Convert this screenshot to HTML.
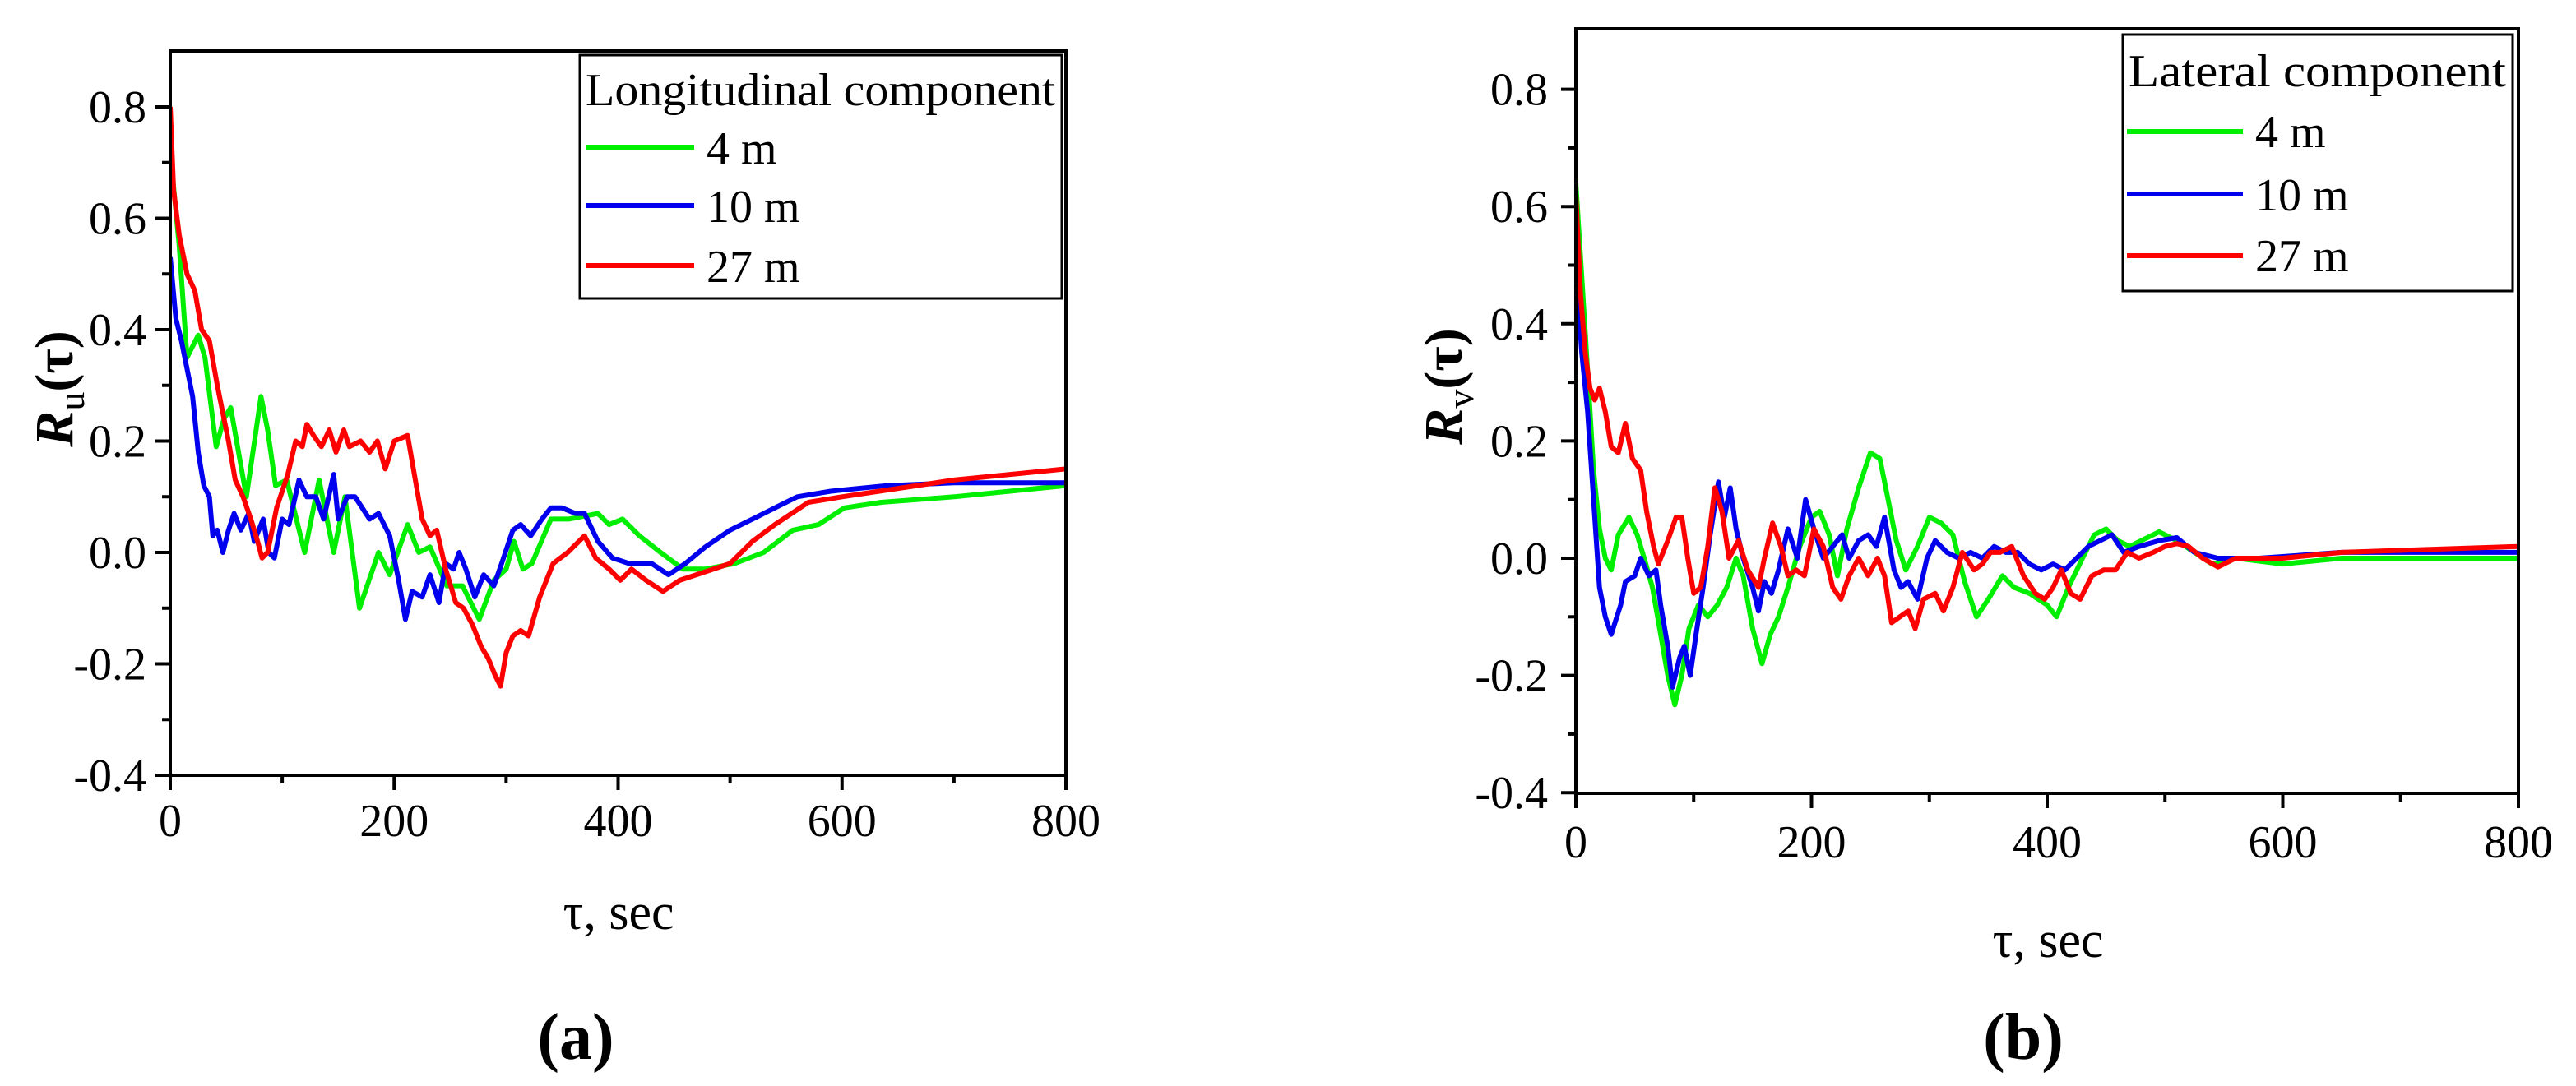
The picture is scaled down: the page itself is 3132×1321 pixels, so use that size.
<!DOCTYPE html>
<html><head><meta charset="utf-8"><style>
html,body{margin:0;padding:0;background:#fff}
svg{display:block}
text{font-family:"Liberation Serif",serif;fill:#000}
</style></head><body>
<svg id="fig" width="3132" height="1321" viewBox="0 0 3132 1321" xmlns="http://www.w3.org/2000/svg">
<defs>
<clipPath id="clipA"><rect x="207" y="62" width="1089" height="881"/></clipPath>
<clipPath id="clipB"><rect x="1916" y="35" width="1146" height="930"/></clipPath>
</defs>
<g id="panelA"></g>
<g id="panelB"></g>
</svg>
<script>
// ---- Panel (a) data: longitudinal component ----
const aGreenT=[0,8,15,25,31,41,48,54,68,81,87,94,104,120,133,146,156,169,186,196,212,222,232,247,261,276,289,300,307,315,323,340,356,382,392,404,419,438,458,478,504,530,556,579,602,635,700,800];
const aGreenV=[0.72,0.55,0.35,0.39,0.35,0.19,0.24,0.26,0.1,0.28,0.22,0.12,0.13,0.0,0.13,0.0,0.1,-0.1,0.0,-0.04,0.05,0.0,0.01,-0.06,-0.06,-0.12,-0.05,-0.03,0.02,-0.03,-0.02,0.06,0.06,0.07,0.05,0.06,0.03,0.0,-0.03,-0.03,-0.02,0.0,0.04,0.05,0.08,0.09,0.10,0.12];
const aBlueT=[0,5,10,20,25,30,35,38,42,47,52,57,63,70,75,83,88,93,100,106,115,122,130,137,146,150,158,165,178,186,196,204,210,216,225,232,240,246,253,258,264,272,280,289,296,306,313,322,332,340,350,362,370,382,395,410,430,445,460,478,500,520,540,560,590,640,700,800];
const aBlueV=[0.53,0.42,0.38,0.28,0.18,0.12,0.1,0.03,0.04,0.0,0.04,0.07,0.04,0.07,0.02,0.06,0.0,-0.01,0.06,0.05,0.13,0.1,0.1,0.06,0.14,0.06,0.1,0.1,0.06,0.07,0.03,-0.05,-0.12,-0.07,-0.08,-0.04,-0.09,-0.02,-0.03,0.0,-0.03,-0.08,-0.04,-0.06,-0.02,0.04,0.05,0.03,0.06,0.08,0.08,0.07,0.07,0.02,-0.01,-0.02,-0.02,-0.04,-0.02,0.01,0.04,0.06,0.08,0.10,0.11,0.12,0.125,0.125];
const aRedT=[0,3,8,15,22,28,35,42,52,58,65,72,78,82,87,95,100,105,112,118,122,128,135,142,148,155,160,170,178,185,192,200,212,218,225,232,238,246,255,262,270,278,284,290,295,300,306,313,320,330,342,355,370,380,392,402,412,425,440,455,470,485,500,520,540,570,600,650,700,800];
const aRedV=[0.8,0.65,0.57,0.5,0.47,0.4,0.38,0.3,0.2,0.13,0.1,0.06,0.02,-0.01,0.0,0.08,0.11,0.14,0.2,0.19,0.23,0.21,0.19,0.22,0.18,0.22,0.19,0.2,0.18,0.2,0.15,0.2,0.21,0.14,0.06,0.03,0.04,-0.03,-0.09,-0.1,-0.13,-0.17,-0.19,-0.22,-0.24,-0.18,-0.15,-0.14,-0.15,-0.08,-0.02,0.0,0.03,-0.01,-0.03,-0.05,-0.03,-0.05,-0.07,-0.05,-0.04,-0.03,-0.02,0.02,0.05,0.09,0.10,0.115,0.13,0.15];
// ---- Panel (b) data: lateral component ----
const bGreenT=[0,5,10,15,20,25,30,36,45,52,58,65,72,78,84,90,96,104,112,120,128,136,142,150,158,165,172,180,190,200,207,215,222,230,240,250,258,265,272,280,290,300,310,320,330,340,350,362,372,385,400,408,418,430,440,450,460,470,480,495,510,525,540,560,600,650,800];
const bGreenV=[0.64,0.48,0.32,0.15,0.05,0.0,-0.02,0.04,0.07,0.04,0.0,-0.05,-0.13,-0.2,-0.25,-0.2,-0.12,-0.08,-0.1,-0.08,-0.05,0.0,-0.03,-0.12,-0.18,-0.13,-0.1,-0.05,0.02,0.07,0.08,0.04,-0.03,0.05,0.12,0.18,0.17,0.1,0.03,-0.02,0.02,0.07,0.06,0.04,-0.04,-0.1,-0.07,-0.03,-0.05,-0.06,-0.08,-0.1,-0.05,0.0,0.04,0.05,0.03,0.02,0.03,0.045,0.03,0.01,-0.01,0.0,-0.01,0.0,0.0];
const bBlueT=[0,5,10,15,20,25,30,38,42,50,55,62,68,72,78,82,88,92,97,102,108,114,121,126,131,136,142,150,155,160,166,172,180,188,195,202,210,218,226,232,240,248,255,262,270,276,282,290,298,305,315,325,335,345,355,365,375,385,395,405,415,425,435,445,455,465,478,495,510,525,545,580,650,800];
const bBlueV=[0.5,0.35,0.25,0.1,-0.05,-0.1,-0.13,-0.08,-0.04,-0.03,0.0,-0.03,-0.02,-0.08,-0.15,-0.22,-0.17,-0.15,-0.2,-0.13,-0.05,0.04,0.13,0.07,0.12,0.05,0.0,-0.05,-0.09,-0.04,-0.06,-0.02,0.05,0.0,0.1,0.05,0.0,0.02,0.04,0.0,0.03,0.04,0.02,0.07,-0.02,-0.05,-0.04,-0.07,0.0,0.03,0.01,0.0,0.01,0.0,0.02,0.01,0.01,-0.01,-0.02,-0.01,-0.02,0.0,0.02,0.03,0.04,0.01,0.02,0.03,0.035,0.01,0.0,0.0,0.01,0.01];
const bRedT=[0,4,8,12,16,20,25,30,36,42,48,55,60,66,70,78,85,90,95,100,106,112,118,124,130,138,146,155,160,167,174,180,187,194,202,210,218,225,232,240,248,256,262,268,275,282,288,295,305,312,320,328,338,345,352,360,370,380,390,398,405,412,420,428,438,448,458,468,478,490,500,510,520,532,545,560,600,650,800];
const bRedV=[0.62,0.45,0.35,0.29,0.27,0.29,0.25,0.19,0.18,0.23,0.17,0.15,0.08,0.02,-0.01,0.03,0.07,0.07,0.0,-0.06,-0.05,0.02,0.12,0.08,0.0,0.03,-0.02,-0.05,0.0,0.06,0.02,-0.03,-0.02,-0.03,0.05,0.02,-0.05,-0.07,-0.03,0.0,-0.03,0.0,-0.03,-0.11,-0.1,-0.09,-0.12,-0.07,-0.06,-0.09,-0.05,0.01,-0.02,-0.01,0.01,0.01,0.02,-0.03,-0.06,-0.07,-0.05,-0.02,-0.06,-0.07,-0.03,-0.02,-0.02,0.01,0.0,0.01,0.02,0.025,0.02,0.0,-0.015,0.0,0.0,0.01,0.02];
const xTicks=[0,200,400,600,800];
const yTicks=[-0.4,-0.2,0.0,0.2,0.4,0.6,0.8];
const yTickLabels=["-0.4","-0.2","0.0","0.2","0.4","0.6","0.8"];
const NS="http://www.w3.org/2000/svg";
function mk(parent,tag,attrs,txt){const e=document.createElementNS(NS,tag);for(const k in attrs)e.setAttribute(k,attrs[k]);if(txt!==undefined)e.textContent=txt;parent.appendChild(e);return e;}

function panel(g,cfg){
  const xs=t=>cfg.x0+(t/800)*(cfg.x1-cfg.x0);
  const ys=v=>cfg.yz-v*cfg.k;
  const sg=mk(g,'g',{'clip-path':cfg.clip});
  
  
  cfg.series.forEach(s=>{
    let d='';
    s.t.forEach((t,i)=>{d+=(i?'L':'M')+xs(t).toFixed(1)+' '+ys(s.v[i]).toFixed(1);});
    const p=mk(sg,'path',{d:d,fill:'none',stroke:s.c,'stroke-width':6,'stroke-linejoin':'round'});
    
    
  });
  const fr=mk(g,'rect',{x:cfg.x0,y:cfg.top,width:cfg.x1-cfg.x0,height:cfg.bot-cfg.top,fill:'none',stroke:'#000','stroke-width':4});
  
  
  for(let t=0;t<=800;t+=100){
    const major=t%200===0;
    const tk=mk(g,'line',{x1:xs(t),x2:xs(t),y1:cfg.bot,y2:cfg.bot+(major?18:10),stroke:'#000','stroke-width':4});
    
    
  }
  xTicks.forEach(t=>{
    const l=mk(g,'text',{x:xs(t),y:cfg.xLabY,'text-anchor':'middle','font-size':56},String(t));
    
    
  });
  for(let i=-4;i<=8;i++){
    const v=i/10;const major=i%2===0;
    const tk=mk(g,'line',{x1:cfg.x0-(major?18:10),x2:cfg.x0,y1:ys(v),y2:ys(v),stroke:'#000','stroke-width':4});
    
    
  }
  yTicks.forEach((v,i)=>{
    const l=mk(g,'text',{x:cfg.yLabX,y:ys(v)+19,'text-anchor':'end','font-size':56},yTickLabels[i]);
    
    
  });
}
</script>
<script>
panel(document.getElementById('panelA'),{x0:207,x1:1296,top:62,bot:943,yz:672,k:677.5,clip:'url(#clipA)',xLabY:1017,yLabX:178,
  series:[{t:aGreenT,v:aGreenV,c:'#00ee00',name:'series-4m'},{t:aBlueT,v:aBlueV,c:'#0000ee',name:'series-10m'},{t:aRedT,v:aRedV,c:'#ff0000',name:'series-27m'}]});
panel(document.getElementById('panelB'),{x0:1916,x1:3062,top:35,bot:965,yz:679,k:713,clip:'url(#clipB)',xLabY:1043,yLabX:1882,
  series:[{t:bGreenT,v:bGreenV,c:'#00ee00',name:'series-4m'},{t:bBlueT,v:bBlueV,c:'#0000ee',name:'series-10m'},{t:bRedT,v:bRedV,c:'#ff0000',name:'series-27m'}]});
</script>
<svg style="position:absolute;left:0;top:0" width="3132" height="1321" xmlns="http://www.w3.org/2000/svg">
  <g>
    <rect x="705" y="67" width="586" height="296" fill="#fff" stroke="#000" stroke-width="3"/>
    <text x="712" y="128" font-size="56" textLength="571" lengthAdjust="spacingAndGlyphs">Longitudinal component</text>
    <line x1="712" y1="179" x2="844" y2="179" stroke="#00ee00" stroke-width="6"/>
    <text x="859" y="199" font-size="56">4 m</text>
    <line x1="712" y1="250" x2="844" y2="250" stroke="#0000ee" stroke-width="6"/>
    <text x="859" y="270" font-size="56">10 m</text>
    <line x1="712" y1="323" x2="844" y2="323" stroke="#ff0000" stroke-width="6"/>
    <text x="859" y="343" font-size="56">27 m</text>
  </g>
  <g>
    <rect x="2581" y="42" width="474" height="312" fill="#fff" stroke="#000" stroke-width="3"/>
    <text x="2588" y="105" font-size="56" textLength="459" lengthAdjust="spacingAndGlyphs">Lateral component</text>
    <line x1="2586" y1="160" x2="2727" y2="160" stroke="#00ee00" stroke-width="6"/>
    <text x="2742" y="179" font-size="56">4 m</text>
    <line x1="2586" y1="236" x2="2727" y2="236" stroke="#0000ee" stroke-width="6"/>
    <text x="2742" y="256" font-size="56">10 m</text>
    <line x1="2586" y1="311" x2="2727" y2="311" stroke="#ff0000" stroke-width="6"/>
    <text x="2742" y="330" font-size="56">27 m</text>
  </g>
  <text transform="translate(88,473) rotate(-90)" text-anchor="middle" font-size="66" font-family="Liberation Serif"><tspan font-style="italic" font-weight="bold">R</tspan><tspan font-size="46" dy="14">u</tspan><tspan dy="-14" font-weight="bold">(τ)</tspan></text>
  <text transform="translate(1777,470) rotate(-90)" text-anchor="middle" font-size="66" font-family="Liberation Serif"><tspan font-style="italic" font-weight="bold">R</tspan><tspan font-size="46" dy="14">v</tspan><tspan dy="-14" font-weight="bold">(τ)</tspan></text>
  <text x="752" y="1130" text-anchor="middle" font-size="62">τ, sec</text>
  <text x="2490" y="1164" text-anchor="middle" font-size="62">τ, sec</text>
  <text x="700" y="1288" text-anchor="middle" font-size="80" font-weight="bold">(a)</text>
  <text x="2460" y="1288" text-anchor="middle" font-size="80" font-weight="bold">(b)</text>
</svg>
</body></html>
